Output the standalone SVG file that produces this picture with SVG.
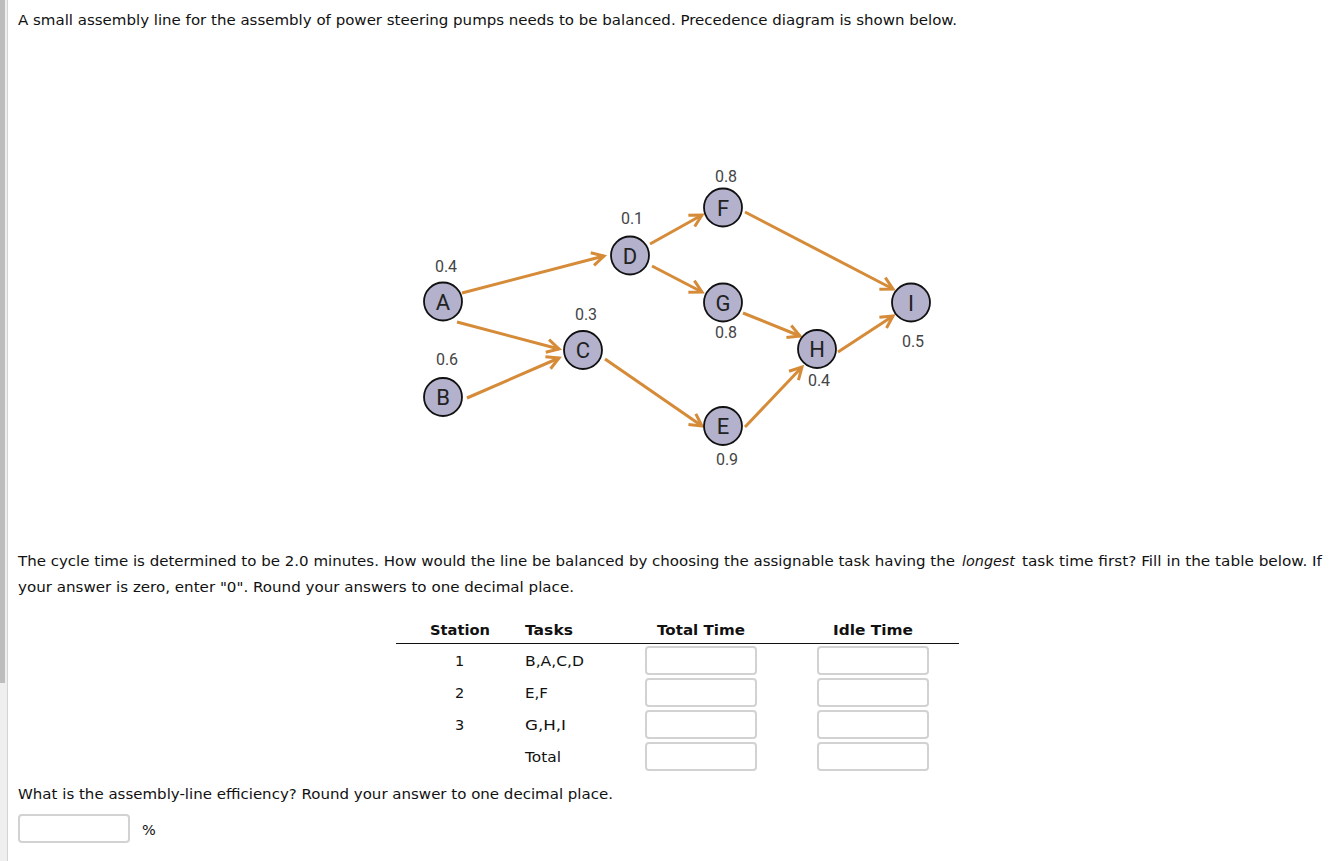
<svg xmlns="http://www.w3.org/2000/svg" width="1332" height="861" viewBox="0 0 1332 861">
<style>
.t{font-family:"DejaVu Sans",Verdana,sans-serif;font-size:14.5px;fill:#111}
.b{font-weight:bold}
.nd circle{fill:#b3b1cc;stroke:#111;stroke-width:1.8}
.lt{font-family:Roboto,"Noto Sans",sans-serif;font-size:22px;fill:#222;text-anchor:middle}
.lb{font-family:Roboto,"Noto Sans",sans-serif;font-size:16px;fill:#444;text-anchor:middle}
.e{stroke:#d58b38;stroke-width:3;fill:none;marker-end:url(#ah)}
.box{fill:#fff;stroke:#d2d2d2;stroke-width:2}
</style>
<defs>
<marker id="ah" markerUnits="userSpaceOnUse" markerWidth="20" markerHeight="20" viewBox="-14 -10 16 20" refX="0" refY="0" orient="auto">
<path d="M-12,-6.5 L0,0 L-12,6.5" fill="none" stroke="#d58b38" stroke-width="3" stroke-linejoin="miter"/>
</marker>
</defs>
<rect x="0" y="0" width="1332" height="861" fill="#fff"/>
<rect x="0" y="0" width="7" height="861" fill="#efefef"/>
<rect x="0" y="0" width="5" height="683" fill="#bdbdbd"/>
<line x1="7.5" y1="0" x2="7.5" y2="861" stroke="#d4d4d4" stroke-width="1"/>

<text class="t" x="18" y="25" textLength="939" lengthAdjust="spacingAndGlyphs">A small assembly line for the assembly of power steering pumps needs to be balanced. Precedence diagram is shown below.</text>

<g id="connectors">
<line class="e" x1="462" y1="293" x2="604" y2="256"/>
<line class="e" x1="650" y1="244" x2="702" y2="215"/>
<line class="e" x1="652" y1="266" x2="702" y2="292"/>
<line class="e" x1="745" y1="212" x2="893" y2="289"/>
<line class="e" x1="457" y1="322" x2="559" y2="349"/>
<line class="e" x1="467" y1="398" x2="559" y2="358"/>
<line class="e" x1="605" y1="359" x2="702" y2="426"/>
<line class="e" x1="743" y1="313" x2="800" y2="336"/>
<line class="e" x1="745" y1="427" x2="802" y2="367"/>
<line class="e" x1="838" y1="352" x2="893" y2="316"/>
</g>

<g id="node-A" class="nd"><circle cx="443" cy="301.5" r="19"/><text class="lt" x="443" y="309.5">A</text><text class="lb" x="446" y="272">0.4</text></g>
<g id="node-B" class="nd"><circle cx="443" cy="397" r="19"/><text class="lt" x="443" y="405">B</text><text class="lb" x="447" y="365">0.6</text></g>
<g id="node-C" class="nd"><circle cx="583" cy="350" r="19"/><text class="lt" x="583" y="358">C</text><text class="lb" x="586" y="320">0.3</text></g>
<g id="node-D" class="nd"><circle cx="630" cy="255.5" r="19"/><text class="lt" x="630" y="263.5">D</text><text class="lb" x="632" y="224">0.1</text></g>
<g id="node-F" class="nd"><circle cx="723" cy="207.5" r="19"/><text class="lt" x="723" y="215.5">F</text><text class="lb" x="726" y="182">0.8</text></g>
<g id="node-G" class="nd"><circle cx="723" cy="302.5" r="19"/><text class="lt" x="723" y="310.5">G</text><text class="lb" x="726" y="338">0.8</text></g>
<g id="node-H" class="nd"><circle cx="817" cy="349" r="19"/><text class="lt" x="817" y="357">H</text><text class="lb" x="819" y="386">0.4</text></g>
<g id="node-I" class="nd"><circle cx="911" cy="302.5" r="19"/><text class="lt" x="911" y="310.5">I</text><text class="lb" x="913" y="347">0.5</text></g>
<g id="node-E" class="nd"><circle cx="723" cy="426" r="19"/><text class="lt" x="723" y="434">E</text><text class="lb" x="727" y="465">0.9</text></g>

<text class="t" x="18" y="566" textLength="937" lengthAdjust="spacingAndGlyphs">The cycle time is determined to be 2.0 minutes. How would the line be balanced by choosing the assignable task having the</text>
<text class="t" x="962" y="566" font-style="italic" textLength="53" lengthAdjust="spacingAndGlyphs">longest</text>
<text class="t" x="1022" y="566" textLength="300" lengthAdjust="spacingAndGlyphs">task time first? Fill in the table below. If</text>
<text class="t" x="18" y="592" textLength="556" lengthAdjust="spacingAndGlyphs">your answer is zero, enter "0". Round your answers to one decimal place.</text>

<g id="table">
<text class="t b" x="430" y="635" textLength="60" lengthAdjust="spacingAndGlyphs">Station</text>
<text class="t b" x="525" y="635" textLength="48" lengthAdjust="spacingAndGlyphs">Tasks</text>
<text class="t b" x="657" y="635" textLength="88" lengthAdjust="spacingAndGlyphs">Total Time</text>
<text class="t b" x="833" y="635" textLength="80" lengthAdjust="spacingAndGlyphs">Idle Time</text>
<line x1="396" y1="643.5" x2="959" y2="643.5" stroke="#111" stroke-width="1"/>
<text class="t" x="459.5" y="666" text-anchor="middle">1</text>
<text class="t" x="459.5" y="698" text-anchor="middle">2</text>
<text class="t" x="459.5" y="730" text-anchor="middle">3</text>
<text class="t" x="525" y="666" textLength="59" lengthAdjust="spacingAndGlyphs">B,A,C,D</text>
<text class="t" x="525" y="698" textLength="23" lengthAdjust="spacingAndGlyphs">E,F</text>
<text class="t" x="525" y="730" textLength="41" lengthAdjust="spacingAndGlyphs">G,H,I</text>
<text class="t" x="525" y="762" textLength="36" lengthAdjust="spacingAndGlyphs">Total</text>
<rect class="box" x="646" y="647" width="110" height="27" rx="3"/>
<rect class="box" x="646" y="679" width="110" height="27" rx="3"/>
<rect class="box" x="646" y="711" width="110" height="27" rx="3"/>
<rect class="box" x="646" y="743" width="110" height="27" rx="3"/>
<rect class="box" x="818" y="647" width="110" height="27" rx="3"/>
<rect class="box" x="818" y="679" width="110" height="27" rx="3"/>
<rect class="box" x="818" y="711" width="110" height="27" rx="3"/>
<rect class="box" x="818" y="743" width="110" height="27" rx="3"/>
</g>

<text class="t" x="18" y="799" textLength="595" lengthAdjust="spacingAndGlyphs">What is the assembly-line efficiency? Round your answer to one decimal place.</text>
<rect class="box" x="19" y="815" width="110" height="27" rx="3"/>
<text class="t" x="142" y="835">%</text>
</svg>
